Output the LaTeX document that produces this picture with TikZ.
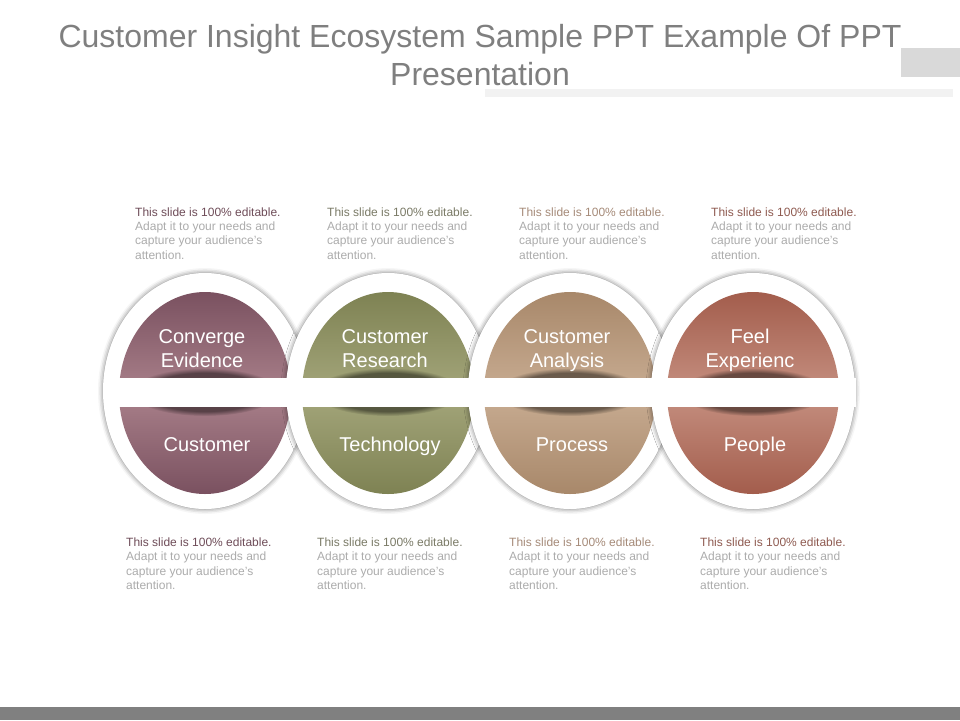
\documentclass[tikz,border=0pt]{standalone}
\usepackage{fontspec}
\setmainfont{Liberation Sans}
\usepackage{xcolor}
\usepackage{tikz}
\usetikzlibrary{shadows.blur,fadings}

\definecolor{titlegray}{HTML}{7F7F7F}
\definecolor{notegray}{HTML}{ABABAB}
\definecolor{mauvedark}{HTML}{7A5160}
\definecolor{mauvelight}{HTML}{A9808A}
\definecolor{olivedark}{HTML}{7E8253}
\definecolor{olivelight}{HTML}{A4A67B}
\definecolor{tandark}{HTML}{A8886A}
\definecolor{tanlight}{HTML}{C8AC92}
\definecolor{rustdark}{HTML}{A35D4C}
\definecolor{rustlight}{HTML}{C58F80}
\definecolor{mauvenote}{HTML}{6E4C58}
\definecolor{olivenote}{HTML}{7A7A66}
\definecolor{tannote}{HTML}{A58A78}
\definecolor{rustnote}{HTML}{8E5A50}

\begin{document}
\begin{tikzpicture}[x=1pt,y=-1pt,
    ring/.style={fill=white, blur shadow={shadow xshift=0pt, shadow yshift=0pt,
        shadow blur radius=5pt, shadow opacity=55}},
    disklabel/.style={inner sep=0pt, text=white, align=center,
        font=\fontsize{20}{24}\selectfont},
    note/.style={anchor=north west, inner sep=0pt, align=left, text=notegray,
        font=\fontsize{12}{14.3}\selectfont}]
    \useasboundingbox (0,0) rectangle (960,720);

    % Header
    \fill[gray!30] (901,48) rectangle (960,77);
    \fill[gray!10] (485,89) rectangle (953,97);
    \node[anchor=north, inner sep=0pt, align=center, text=titlegray,
        font=\fontsize{32}{38}\selectfont] (title) at (480,24)
        {Customer Insight Ecosystem Sample PPT Example Of PPT\\Presentation};

    % Discs
    \foreach \cx/\dk/\lt in {205/mauvedark/mauvelight, 388/olivedark/olivelight,
        570/tandark/tanlight, 753/rustdark/rustlight} {
        \fill[ring] (\cx,391) ellipse (102 and 118);
        \begin{scope}
            \clip (\cx,393) ellipse (86 and 101);
            \shade[top color=\dk, bottom color=\dk, middle color=\lt]
                (\cx,393) ellipse (86 and 101);
            \fill[black, opacity=0.45, path fading=circle with fuzzy edge 20 percent]
                (\cx,392) ellipse (74 and 24);
        \end{scope}
    }

    % Band across the discs
    \fill[white] (104,378) rectangle (856,407);

    % Disc labels
    \foreach \cx/\up/\low [count=\i] in {205/{Converge\\Evidence}/Customer,
        388/{Customer\\Research}/Technology, 570/{Customer\\Analysis}/Process,
        753/{Feel\\Experienc}/People} {
        \node[disklabel, anchor=north] (up\i) at (\cx-3,329) {\up};
        \node[disklabel, anchor=base] (low\i) at (\cx+2,451) {\low};
    }

    % Notes
    \foreach \tx/\bx/\nc [count=\i] in {135/126/mauvenote, 327/317/olivenote,
        519/509/tannote, 711/700/rustnote} {
        \node[note] (notetop\i) at (\tx,207.5)
            {\textcolor{\nc}{This slide is 100\% editable.}\\Adapt it to your needs and\\capture your audience's\\attention.};
        \node[note] (notebot\i) at (\bx,537.5)
            {\textcolor{\nc}{This slide is 100\% editable.}\\Adapt it to your needs and\\capture your audience's\\attention.};
    }

    % Footer bar
    \fill[gray] (0,707) rectangle (960,720);
\end{tikzpicture}
\end{document}
